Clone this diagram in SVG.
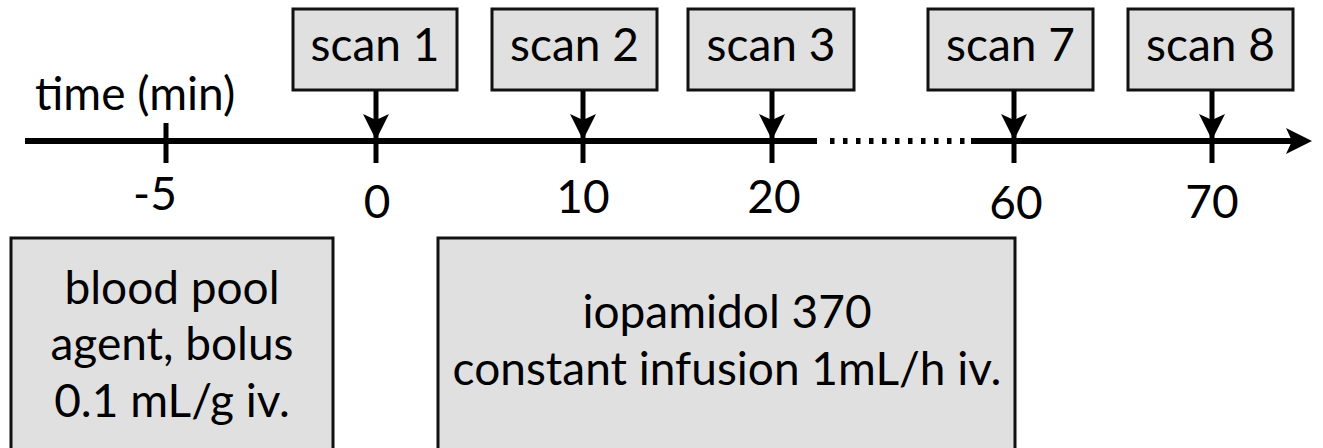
<svg xmlns="http://www.w3.org/2000/svg" width="1323" height="448" viewBox="0 0 1323 448">
  <style>
    .box { fill: #e0e0e0; stroke: #111; stroke-width: 3; }
    .lbl { font-family: Lato, "Liberation Sans", sans-serif; font-size: 46px; fill: #000; text-anchor: middle; }
    .axis { stroke: #000; stroke-width: 6; fill: none; }
    .tick { stroke: #000; stroke-width: 5; }
    .arr { stroke: #000; stroke-width: 5; fill: none; }
  </style>
  <defs>
    <marker id="ah" markerUnits="userSpaceOnUse" markerWidth="27" markerHeight="27" refX="14" refY="13" orient="auto" overflow="visible">
      <path d="M0,0 L26,13 L0,26 L6,13 z" fill="#000"/>
    </marker>
  </defs>
  <rect width="1323" height="448" fill="#fff"/>

  <g id="axis">
    <line class="axis" x1="25" y1="141" x2="817" y2="141"/>
    <line class="axis" x1="830" y1="141" x2="966" y2="141" stroke-dasharray="4.5 8.5"/>
    <line class="axis" x1="971" y1="141" x2="1300" y2="141" marker-end="url(#ah)"/>
    <line class="tick" x1="166" y1="123" x2="166" y2="163"/>
    <line class="tick" x1="376" y1="123" x2="376" y2="163"/>
    <line class="tick" x1="583" y1="123" x2="583" y2="163"/>
    <line class="tick" x1="772" y1="123" x2="772" y2="163"/>
    <line class="tick" x1="1014" y1="123" x2="1014" y2="163"/>
    <line class="tick" x1="1212" y1="123" x2="1212" y2="163"/>
    <text class="lbl" x="35" y="110" style="text-anchor:start">time (min)</text>
    <text class="lbl" x="155" y="210">-5</text>
    <text class="lbl" x="377" y="218">0</text>
    <text class="lbl" x="583" y="213">10</text>
    <text class="lbl" x="774" y="213">20</text>
    <text class="lbl" x="1016" y="219">60</text>
    <text class="lbl" x="1212" y="218">70</text>
  </g>

  <g id="scan1"><rect class="box" x="293" y="9" width="164" height="81"/><text class="lbl" x="375" y="61">scan 1</text></g>
  <g id="scan2"><rect class="box" x="492" y="9" width="165" height="81"/><text class="lbl" x="574.5" y="61">scan 2</text></g>
  <g id="scan3"><rect class="box" x="688" y="9" width="166" height="81"/><text class="lbl" x="771" y="61">scan 3</text></g>
  <g id="scan7"><rect class="box" x="928" y="9" width="165" height="81"/><text class="lbl" x="1010.5" y="61">scan 7</text></g>
  <g id="scan8"><rect class="box" x="1128" y="9" width="165" height="81"/><text class="lbl" x="1210.5" y="61">scan 8</text></g>

  <g id="bolus">
    <rect class="box" x="11" y="238" width="322" height="220"/>
    <text class="lbl" x="172" y="304">blood pool</text>
    <text class="lbl" x="172" y="360">agent, bolus</text>
    <text class="lbl" x="172" y="417">0.1 mL/g iv.</text>
  </g>
  <g id="infusion">
    <rect class="box" x="438" y="238" width="577" height="220"/>
    <text class="lbl" x="727" y="328">iopamidol 370</text>
    <text class="lbl" x="727" y="385">constant infusion 1mL/h iv.</text>
  </g>

  <g id="connectors">
    <line class="arr" x1="376" y1="91" x2="376" y2="128" marker-end="url(#ah)"/>
    <line class="arr" x1="583" y1="91" x2="583" y2="128" marker-end="url(#ah)"/>
    <line class="arr" x1="772" y1="91" x2="772" y2="128" marker-end="url(#ah)"/>
    <line class="arr" x1="1014" y1="91" x2="1014" y2="128" marker-end="url(#ah)"/>
    <line class="arr" x1="1212" y1="91" x2="1212" y2="128" marker-end="url(#ah)"/>
  </g>
</svg>
